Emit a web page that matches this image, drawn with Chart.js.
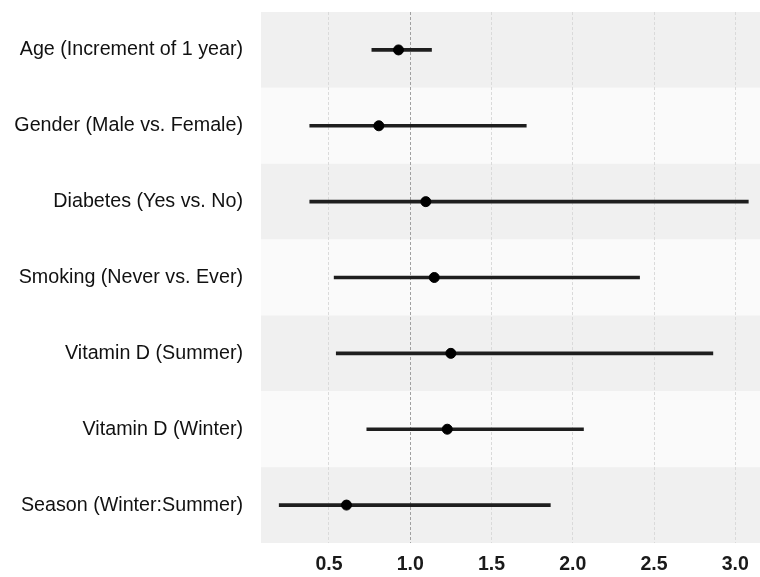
<!DOCTYPE html>
<html>
<head>
<meta charset="utf-8">
<script src="https://cdn.jsdelivr.net/npm/chart.js@4/dist/chart.umd.min.js"></script>
<style>
  html, body { margin: 0; padding: 0; background: #fff; }
  #wrap { width: 760px; height: 577px; }
</style>
</head>
<body>
<div id="wrap"><canvas id="myChart"></canvas></div>
<script>
// 변수명 / 추정값 (odds ratio, 95% CI)
const factors = [
  'Age (Increment of 1 year)',
  'Gender (Male vs. Female)',
  'Diabetes (Yes vs. No)',
  'Smoking (Never vs. Ever)',
  'Vitamin D (Summer)',
  'Vitamin D (Winter)',
  'Season (Winter:Summer)'
];
const estimate = [0.928, 0.807, 1.096, 1.148, 1.250, 1.228, 0.608];
const lower    = [0.764, 0.382, 0.382, 0.532, 0.545, 0.733, 0.194];
const upper    = [1.131, 1.714, 3.080, 2.411, 2.862, 2.066, 1.862];
const tickValues = [0.5, 1.0, 1.5, 2.0, 2.5, 3.0];

// 행 배경 줄무늬
const bandPlugin = {
  id: 'bands',
  beforeDraw(chart) {
    const { ctx, chartArea } = chart;
    const y = chart.scales.y;
    const n = factors.length;
    const h = (chartArea.bottom - chartArea.top) / n;
    ctx.save();
    for (let i = 0; i < n; i++) {
      const c = y.getPixelForValue(i);
      ctx.fillStyle = i % 2 === 0 ? '#f0f0f0' : '#fafafa';
      ctx.fillRect(chartArea.left, c - h / 2, chartArea.right - chartArea.left, h);
    }
    ctx.restore();
  }
};

var chartArea = document.getElementById('myChart').getContext('2d');
var myChart = new Chart(chartArea, {
  type: 'bar',
  data: {
    labels: factors,
    datasets: [
      {
        label: 'CI',
        data: lower.map((lo, i) => [lo, upper[i]]),
        backgroundColor: '#1e1e1e',
        borderWidth: 0,
        barThickness: 3,
        borderSkipped: false,
        order: 2
      },
      {
        type: 'scatter',
        label: 'OR',
        data: estimate.map((v, i) => ({ x: v, y: factors[i] })),
        backgroundColor: '#000',
        borderColor: '#000',
        pointRadius: 5,
        order: 1
      }
    ]
  },
  plugins: [bandPlugin],
  options: {
    indexAxis: 'y',
    responsive: true,
    maintainAspectRatio: false,
    animation: false,
    layout: { autoPadding: false, padding: { top: 12, right: 0, left: 0, bottom: 0 } },
    plugins: {
      legend: { display: false },
      tooltip: { enabled: false }
    },
    scales: {
      x: {
        type: 'linear',
        min: 0.082,
        max: 3.152,
        afterBuildTicks: (scale) => { scale.ticks = tickValues.map(v => ({ value: v })); },
        afterFit: (scale) => {
          scale.height = 34;
          scale.paddingLeft = 0;
          scale.paddingRight = 0;
        },
        grid: {
          drawTicks: false,
          color: (ctx) => (ctx.tick && ctx.tick.value === 1 ? '#a0a0a0' : '#dadada'),
          lineWidth: 1
        },
        border: { display: false, dash: [3, 2] },
        ticks: {
          padding: 10,
          color: '#1a1a1a',
          font: { family: '"Liberation Sans", Arial, sans-serif', size: 19.5, weight: 'bold' },
          callback: (v) => Number(v).toFixed(1)
        }
      },
      y: {
        type: 'category',
        afterFit: (scale) => {
          scale.width = 261;
          scale.paddingTop = 0;
          scale.paddingBottom = 0;
        },
        grid: { display: false, drawTicks: false },
        border: { display: false },
        ticks: {
          padding: 18,
          color: '#111',
          font: { family: '"Liberation Sans", Arial, sans-serif', size: 19.7 }
        }
      }
    }
  }
});
</script>
</body>
</html>
